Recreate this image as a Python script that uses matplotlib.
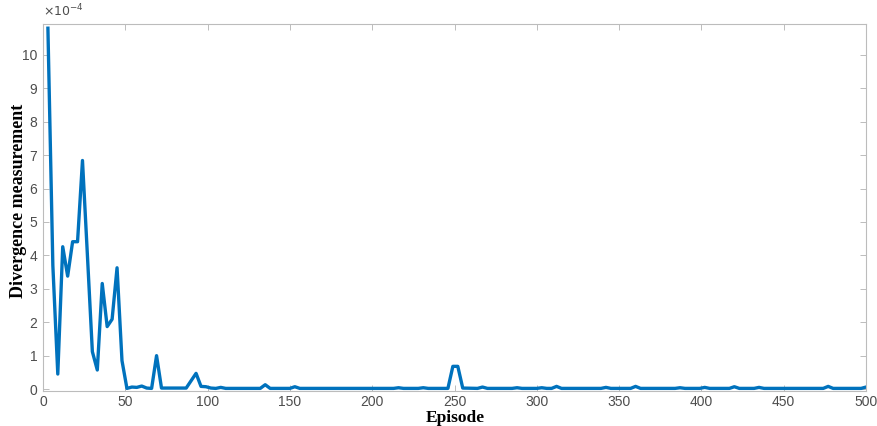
import matplotlib.pyplot as plt

# divergence per episode (values in units of 1e-4)
episodes = [3, 6, 9, 12, 15, 18, 21, 24, 27, 30, 33, 36, 39, 42, 45, 48, 51,
            54, 57, 60, 63, 66, 69, 72, 87, 93, 96, 99, 102, 105, 108, 111,
            117, 132, 135, 138, 150, 153, 156, 213, 216, 219, 228, 231, 234,
            246, 249, 252, 255, 264, 267, 270, 285, 288, 291, 300, 303, 306,
            309, 312, 315, 339, 342, 345, 357, 360, 363, 384, 387, 390, 399,
            402, 405, 417, 420, 423, 432, 435, 438, 474, 477, 480, 497, 500]
divergence = [10.8, 3.7, 0.45, 4.26, 3.38, 4.41, 4.41, 6.84, 4.0, 1.12, 0.57,
              3.16, 1.87, 2.09, 3.63, 0.85, 0.02,
              0.06, 0.05, 0.09, 0.03, 0.02, 1.0, 0.03, 0.03, 0.47, 0.08, 0.07,
              0.03, 0.02, 0.05, 0.02,
              0.02, 0.02, 0.13, 0.02, 0.02, 0.07, 0.02, 0.02, 0.04, 0.02, 0.02,
              0.04, 0.02,
              0.02, 0.68, 0.68, 0.03, 0.02, 0.06, 0.02, 0.02, 0.04, 0.02, 0.02,
              0.04, 0.02,
              0.02, 0.08, 0.02, 0.02, 0.05, 0.02, 0.02, 0.08, 0.02, 0.02, 0.04,
              0.02, 0.02,
              0.05, 0.02, 0.02, 0.07, 0.02, 0.02, 0.05, 0.02, 0.02, 0.08, 0.02,
              0.02, 0.06]

x_ticks = [0, 50, 100, 150, 200, 250, 300, 350, 400, 450, 500]
y_ticks = list(range(0, 11))

fig = plt.figure(figsize=(8.77, 4.26), dpi=100)
ax = fig.add_axes([0.049, 0.082, 0.9385, 0.862])

ax.plot(episodes, divergence, color='#0072BD', linewidth=2.4)

ax.set_xlim(0, 500)
ax.set_ylim(-0.06, 10.93)
ax.set_xticks(x_ticks)
ax.set_yticks(y_ticks)

tick_color = '#4d4d4d'
for side in ['top', 'right', 'bottom', 'left']:
    ax.spines[side].set_color('#bcbcbc')
    ax.spines[side].set_linewidth(0.8)
ax.tick_params(direction='in', length=4, width=0.7, color='#bcbcbc',
               labelcolor=tick_color, labelsize=10, top=True, right=True)
ax.tick_params(axis='x', pad=2.5)
ax.tick_params(axis='y', pad=4)
for lbl in ax.get_xticklabels() + ax.get_yticklabels():
    lbl.set_family('Liberation Sans')

fig.text(0.049, 0.955, r'$\times10^{-4}$', color=tick_color, fontsize=9,
         family='Liberation Sans', ha='left', va='bottom')

fig.text(0.021, 0.528, 'Divergence measurement', rotation=90, fontsize=13,
         fontweight='bold', family='Liberation Serif', ha='center',
         va='center')
fig.text(0.519, 0.0, 'Episode', fontsize=12.5, fontweight='bold',
         family='Liberation Serif', ha='center', va='bottom')

fig.savefig('out.png', dpi=100)
